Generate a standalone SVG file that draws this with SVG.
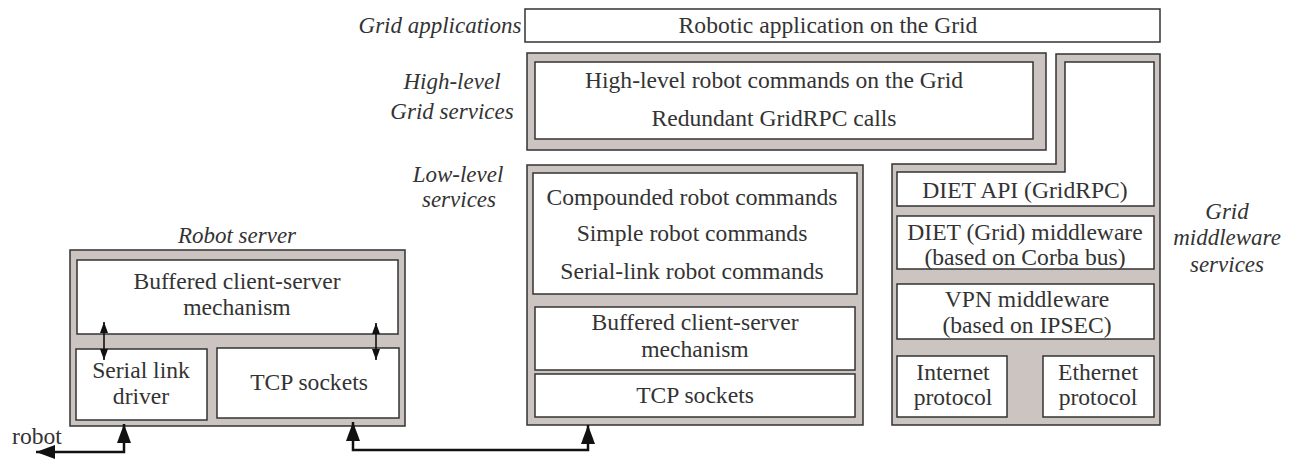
<svg xmlns="http://www.w3.org/2000/svg" width="1291" height="459" viewBox="0 0 1291 459">
<style>
  .t { font-family: "Liberation Serif", "Times New Roman", serif; font-size: 23.6px; fill: #333; text-anchor: middle; }
  .it { font-family: "Liberation Serif", "Times New Roman", serif; font-size: 23px; fill: #333; font-style: italic; text-anchor: middle; }
  .box { fill: #ffffff; stroke: #333; stroke-width: 1.5; }
  .gray { fill: #cbc4c0; stroke: #333; stroke-width: 1.5; }
  .conn { fill: none; stroke: #111; stroke-width: 2.5; }
  .dbl { fill: none; stroke: #111; stroke-width: 1.6; }
</style>
<defs>
  <marker id="big" markerUnits="userSpaceOnUse" markerWidth="20" markerHeight="14" viewBox="0 0 20 14" refX="19" refY="7" orient="auto-start-reverse">
    <path d="M0,0 L19,7 L0,14 Z" fill="#111"/>
  </marker>
  <marker id="small" markerUnits="userSpaceOnUse" markerWidth="11" markerHeight="8" viewBox="0 0 11 8" refX="11" refY="4" orient="auto-start-reverse">
    <path d="M0,0 L11,4 L0,8 Z" fill="#111"/>
  </marker>
</defs>

<!-- layer labels -->
<g id="labels">
  <text class="it" x="440" y="33">Grid applications</text>
  <text class="it" x="452" y="89">High-level</text>
  <text class="it" x="452" y="119">Grid services</text>
  <text class="it" x="458" y="182">Low-level</text>
  <text class="it" x="459" y="207">services</text>
  <text class="it" x="1227" y="219">Grid</text>
  <text class="it" x="1227" y="245">middleware</text>
  <text class="it" x="1227" y="272">services</text>
  <text class="it" x="237" y="243">Robot server</text>
  <text class="t" x="37" y="444">robot</text>
</g>

<!-- Grid applications -->
<g id="grid-app">
  <rect class="box" x="525" y="9" width="635" height="33"/>
  <text class="t" x="828" y="33">Robotic application on the Grid</text>
</g>

<!-- High-level Grid services -->
<g id="high-level">
  <rect class="gray" x="527" y="53" width="519" height="97"/>
  <rect class="box" x="535" y="62" width="498" height="77"/>
  <text class="t" x="774" y="88">High-level robot commands on the Grid</text>
  <text class="t" x="774" y="126">Redundant GridRPC calls</text>
</g>

<!-- Low-level services -->
<g id="low-level">
  <rect class="gray" x="527" y="165" width="336" height="260"/>
  <rect class="box" x="533" y="173" width="324" height="121"/>
  <text class="t" x="692" y="205">Compounded robot commands</text>
  <text class="t" x="692" y="241">Simple robot commands</text>
  <text class="t" x="692" y="279">Serial-link robot commands</text>
  <rect class="box" x="535" y="307" width="320" height="63"/>
  <text class="t" x="695" y="330">Buffered client-server</text>
  <text class="t" x="695" y="357">mechanism</text>
  <rect class="box" x="535" y="374" width="320" height="43"/>
  <text class="t" x="695" y="403">TCP sockets</text>
</g>

<!-- Grid middleware services -->
<g id="middleware">
  <path class="gray" d="M892,164 L1056,164 L1056,54 L1160,54 L1160,425 L892,425 Z"/>
  <path class="box" d="M897,172 L1065,172 L1065,62 L1154,62 L1154,206 L897,206 Z"/>
  <text class="t" x="1025" y="198">DIET API (GridRPC)</text>
  <rect class="box" x="897" y="216" width="257" height="53"/>
  <text class="t" x="1025" y="240">DIET (Grid) middleware</text>
  <text class="t" x="1025" y="265">(based on Corba bus)</text>
  <rect class="box" x="897" y="284" width="257" height="55"/>
  <text class="t" x="1027" y="307">VPN middleware</text>
  <text class="t" x="1027" y="333">(based on IPSEC)</text>
  <rect class="box" x="897" y="356" width="110" height="61"/>
  <text class="t" x="953" y="380">Internet</text>
  <text class="t" x="953" y="405">protocol</text>
  <rect class="box" x="1043" y="356" width="111" height="61"/>
  <text class="t" x="1098" y="380">Ethernet</text>
  <text class="t" x="1098" y="405">protocol</text>
</g>

<!-- Robot server -->
<g id="robot-server">
  <rect class="gray" x="70" y="250" width="335" height="176"/>
  <rect class="box" x="77" y="260" width="321" height="74"/>
  <text class="t" x="237" y="289">Buffered client-server</text>
  <text class="t" x="237" y="315">mechanism</text>
  <rect class="box" x="76" y="349" width="131" height="71"/>
  <text class="t" x="141" y="378">Serial link</text>
  <text class="t" x="141" y="404">driver</text>
  <rect class="box" x="217" y="348" width="182" height="70"/>
  <text class="t" x="309" y="390">TCP sockets</text>
</g>

<!-- connectors -->
<g id="connectors">
  <line class="dbl" x1="104" y1="322" x2="104" y2="360" marker-start="url(#small)" marker-end="url(#small)"/>
  <line class="dbl" x1="376" y1="323" x2="376" y2="360" marker-start="url(#small)" marker-end="url(#small)"/>
  <path class="conn" d="M36,452 L124,452 L124,424" marker-start="url(#big)" marker-end="url(#big)"/>
  <path class="conn" d="M353,422 L353,450 L588,450 L588,425" marker-start="url(#big)" marker-end="url(#big)"/>
</g>
</svg>
